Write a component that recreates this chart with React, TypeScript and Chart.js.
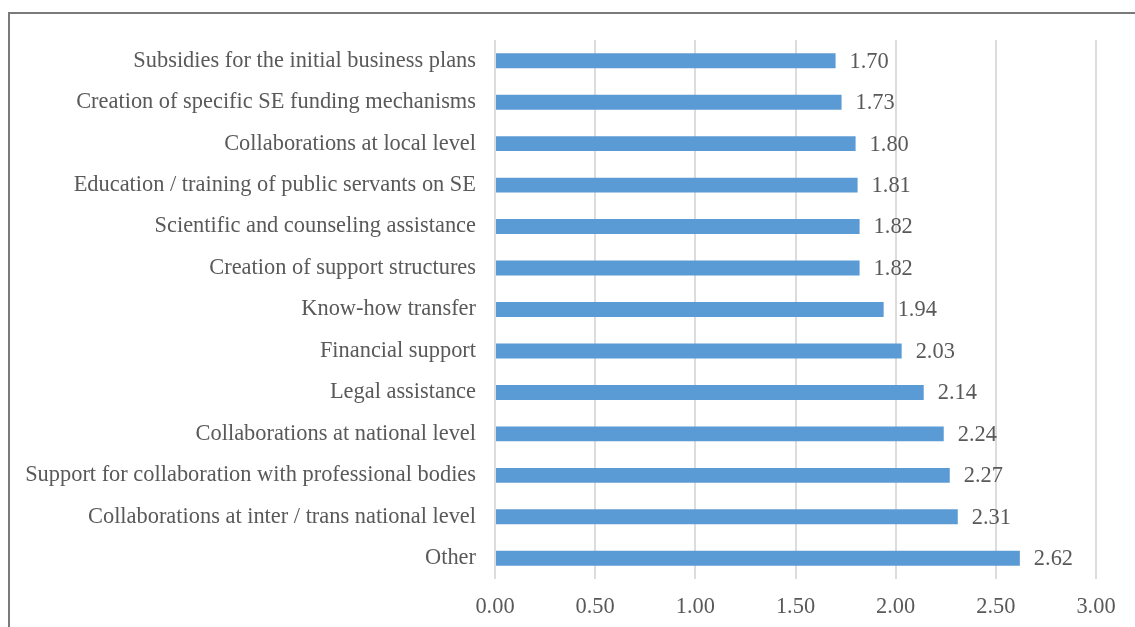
import React, { useEffect, useRef } from "react";
import { Chart, registerables } from "chart.js";

Chart.register(...registerables);

const categories = [
  "Subsidies for the initial business plans",
  "Creation of specific SE funding mechanisms",
  "Collaborations at local level",
  "Education / training of public servants on SE",
  "Scientific and counseling assistance",
  "Creation of support structures",
  "Know-how transfer",
  "Financial support",
  "Legal assistance",
  "Collaborations at national level",
  "Support for collaboration with professional bodies",
  "Collaborations at inter / trans national level",
  "Other",
];

const values = [1.7, 1.73, 1.8, 1.81, 1.82, 1.82, 1.94, 2.03, 2.14, 2.24, 2.27, 2.31, 2.62];

const FONT = "'Liberation Serif', 'Times New Roman', serif";
const TEXT = "#595959";
const SIZE = 22.4;

const valueLabels = {
  id: "valueLabels",
  afterDatasetsDraw(chart: any) {
    const ctx = chart.ctx;
    const meta = chart.getDatasetMeta(0);
    ctx.save();
    ctx.font = `${SIZE}px ${FONT}`;
    ctx.fillStyle = TEXT;
    ctx.textAlign = "left";
    ctx.textBaseline = "middle";
    meta.data.forEach((bar: any, i: number) => {
      ctx.fillText(values[i].toFixed(2), bar.x + 14, bar.y + 1);
    });
    ctx.restore();
  },
};

export default function App() {
  const ref = useRef<HTMLCanvasElement>(null);
  useEffect(() => {
    if (!ref.current) return;
    const chart = new Chart(ref.current, {
      type: "bar",
      data: {
        labels: categories,
        datasets: [
          {
            data: values,
            backgroundColor: "#5b9bd5",
            categoryPercentage: 1,
            barPercentage: 0.36,
          },
        ],
      },
      options: {
        indexAxis: "y",
        responsive: false,
        animation: false,
        layout: { padding: { top: 26, right: 39, bottom: 0, left: 0 } },
        plugins: { legend: { display: false }, tooltip: { enabled: false } },
        scales: {
          x: {
            min: 0,
            max: 3,
            ticks: {
              stepSize: 0.5,
              padding: 15,
              color: TEXT,
              font: { family: FONT, size: SIZE },
              callback: (v: any) => Number(v).toFixed(2),
            },
            grid: { color: "#dcdcdc", lineWidth: 2, drawTicks: false },
            border: { display: false },
            afterFit: (s: any) => {
              s.height = 48;
            },
          },
          y: {
            ticks: {
              padding: 19,
              color: TEXT,
              font: { family: FONT, size: SIZE },
            },
            grid: { display: false, drawTicks: false },
            border: { display: false },
            afterFit: (s: any) => {
              s.width = 485;
              s.paddingTop = 0;
              s.paddingBottom = 0;
            },
          },
        },
      },
      plugins: [valueLabels],
    });
    return () => chart.destroy();
  }, []);
  return (
    <div
      style={{
        position: "fixed",
        left: 8,
        top: 12,
        width: 1127,
        height: 615,
        borderTop: "2px solid #7a7a7a",
        borderLeft: "2px solid #7a7a7a",
        boxSizing: "border-box",
        background: "#fff",
      }}
    >
      <canvas ref={ref} width={1125} height={613} style={{ display: "block" }} />
    </div>
  );
}
